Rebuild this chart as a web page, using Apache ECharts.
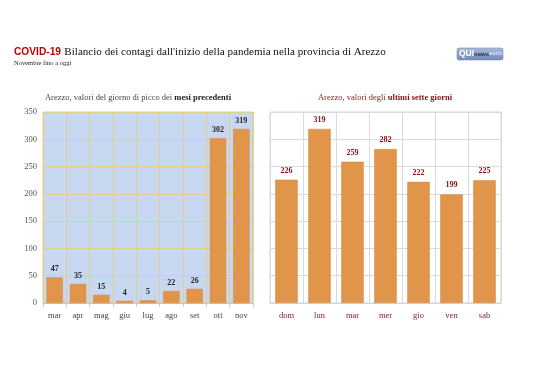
<!DOCTYPE html>
<html><head><meta charset="utf-8">
<script src="https://cdn.jsdelivr.net/npm/echarts@6/dist/echarts.min.js"></script>
<style>html,body{margin:0;padding:0;background:#fff}#c{width:538px;height:380px}</style>
</head><body><div id="c"></div>
<script>
const monthCats = ['mar','apr','mag','giu','lug','ago','set','ott','nov'];
const monthVals = [47,35,15,4,5,22,26,302,319];
const dayCats = ['dom','lun','mar','mer','gio','ven','sab'];
const dayVals = [226,319,259,282,222,199,225];
const yTicks = [0,50,100,150,200,250,300,350];

const serif = '"Liberation Serif","DejaVu Serif",serif';
const sans = '"Liberation Sans","DejaVu Sans",sans-serif';
const chart = echarts.init(document.getElementById('c'), null, {renderer:'canvas'});
const barColor = '#E0954B';
chart.setOption({
  animation:false,
  backgroundColor:'#fff',
  graphic:[
    {type:'text', x:14, y:52, style:{text:'{r|COVID-19} {b|Bilancio dei contagi dall\'inizio della pandemia nella provincia di Arezzo}', textVerticalAlign:'middle', verticalAlign:'middle', rich:{
      r:{fontFamily:sans, fontWeight:'bold', fontSize:10.2, fill:'#C00000'},
      b:{fontFamily:serif, fontSize:11.1, fill:'#111'}}}},
    {type:'text', x:14, y:63, style:{text:'Novembre fino a oggi', fontFamily:serif, fontSize:6.5, fill:'#222', verticalAlign:'middle', textVerticalAlign:'middle'}},
    {type:'rect', shape:{x:457,y:48,width:46,height:12,r:2}, style:{fill:{type:'linear',x:0,y:0,x2:0,y2:1,colorStops:[{offset:0,color:'#A9BCDD'},{offset:1,color:'#7088B6'}]}, stroke:'#7E8FB0', lineWidth:0.6}},
    {type:'text', x:459, y:54, style:{text:'{q|QUI}{n|news}{a|arezzo}', verticalAlign:'middle', textVerticalAlign:'middle', rich:{
      q:{fontFamily:sans, fontWeight:'bold', fontSize:8.5, fill:'#fff'},
      n:{fontFamily:sans, fontWeight:'bold', fontSize:6, fill:'#1E2E5A'},
      a:{fontFamily:sans, fontSize:4.5, fill:'#E8EEF8'}}}},
    {type:'text', x:138, y:98, style:{text:'Arezzo, valori del giorno di picco dei {b|mesi precedenti}', align:'center', textAlign:'center', verticalAlign:'middle', textVerticalAlign:'middle', fontFamily:serif, fontSize:8.5, fill:'#444', rich:{b:{fontFamily:serif, fontSize:8.5, fontWeight:'bold', fill:'#222'}}}},
    {type:'text', x:385, y:98, style:{text:'Arezzo, valori degli {b|ultimi sette giorni}', align:'center', textAlign:'center', verticalAlign:'middle', textVerticalAlign:'middle', fontFamily:serif, fontSize:8.5, fill:'#8B1A1A', rich:{b:{fontFamily:serif, fontSize:8.5, fontWeight:'bold', fill:'#8B1010'}}}}
  ],
  grid:[
    {left:43, top:112, width:210, height:191, show:true, backgroundColor:'#C9D8F1', borderColor:'#E2CF8A', borderWidth:1},
    {left:270, top:112, width:231, height:191, show:true, backgroundColor:'#fff', borderColor:'#D6D6D6', borderWidth:1}
  ],
  xAxis:[
    {type:'category', gridIndex:0, data:monthCats, boundaryGap:true,
     axisLine:{lineStyle:{color:'#D9C88A'}}, axisTick:{show:true, length:4, lineStyle:{color:'#CCCCCC'}},
     axisLabel:{fontFamily:serif, fontSize:8.5, color:'#444', margin:8},
     splitLine:{show:true, lineStyle:{color:'#E2CF8A', width:1}}},
    {type:'category', gridIndex:1, data:dayCats, boundaryGap:true,
     axisLine:{lineStyle:{color:'#D6D6D6'}}, axisTick:{show:false},
     axisLabel:{fontFamily:serif, fontSize:8.5, color:'#8B1A1A', margin:8},
     splitLine:{show:true, lineStyle:{color:'#DADADA', width:1}}}
  ],
  yAxis:[
    {type:'value', gridIndex:0, min:yTicks[0], max:yTicks[yTicks.length-1], interval:50,
     axisLine:{show:false}, axisTick:{show:false},
     axisLabel:{fontFamily:serif, fontSize:8.5, color:'#555', margin:6},
     splitLine:{lineStyle:{color:'#E2CF8A'}}},
    {type:'value', gridIndex:1, min:yTicks[0], max:yTicks[yTicks.length-1], interval:50,
     axisLine:{show:false}, axisTick:{show:false}, axisLabel:{show:false},
     splitLine:{lineStyle:{color:'#DADADA'}}}
  ],
  series:[
    {type:'bar', xAxisIndex:0, yAxisIndex:0, data:monthVals, barCategoryGap:'30%',
     itemStyle:{color:barColor, borderColor:'#D4873E', borderWidth:0.5},
     label:{show:true, position:'top', distance:4, fontFamily:serif, fontWeight:'bold', fontSize:8, color:'#222'}},
    {type:'bar', xAxisIndex:1, yAxisIndex:1, data:dayVals, barCategoryGap:'32%',
     itemStyle:{color:barColor, borderColor:'#D4873E', borderWidth:0.5},
     label:{show:true, position:'top', distance:5, fontFamily:serif, fontWeight:'bold', fontSize:8, color:'#8B1010'}}
  ]
});
</script></body></html>
